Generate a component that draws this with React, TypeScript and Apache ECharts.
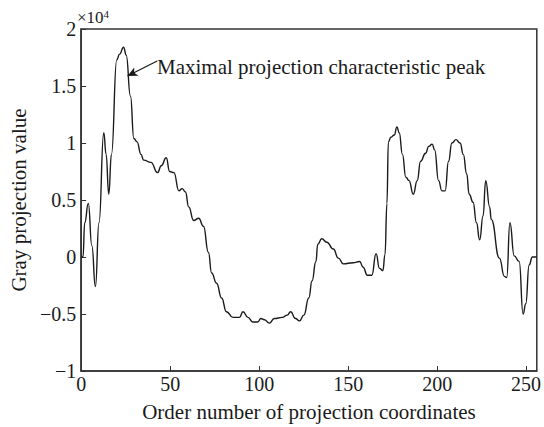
import React, { useEffect, useRef } from "react";
import * as echarts from "echarts";

const xValues = [0, 1, 2, 4, 6, 8, 10, 12.7, 14, 15.5, 17, 20, 21.6, 23.8, 25.3, 27.7, 29.6, 31.4, 33.6, 35.1, 39.2, 42.9, 45, 47.8, 49.7, 52.1, 54.9, 56.7, 58.6, 60.4, 63.2, 66, 68.7, 71.5, 73.3, 76.1, 78.9, 81.6, 85.4, 89, 90.9, 93.7, 96.4, 99.2, 101, 102.9, 105.7, 108.5, 113, 115.8, 117.7, 120.4, 122.7, 125.1, 127.9, 129.7, 131.9, 132.9, 135.2, 138, 141.7, 144.5, 147.3, 152.8, 156.5, 158.4, 160.8, 163.3, 165.7, 167.6, 169.5, 170.7, 171.8, 172.6, 174, 175.9, 177.4, 178.7, 180.5, 182.4, 184.2, 186.6, 188.8, 190.7, 193.5, 195.3, 197.2, 198.6, 200.8, 202.7, 204.5, 206.4, 208.3, 210.6, 212.9, 214.7, 216.6, 218, 220.2, 222.1, 223.9, 225.8, 227.3, 229.5, 230.4, 235, 237.8, 239.1, 240.9, 243.3, 246.1, 248.3, 249.8, 251.7, 253.5, 256];
const grayValues = [0, 0, 3000, 4700, 1000, -2600, 3000, 10900, 9000, 5500, 9000, 17300, 17800, 18400, 17700, 14100, 10400, 10100, 9000, 8500, 8300, 7400, 8000, 8700, 7500, 7400, 5800, 6000, 5700, 4400, 3200, 3400, 2700, 400, -1400, -2300, -3600, -4800, -5300, -5300, -4800, -5300, -5700, -5700, -5400, -5500, -5800, -5400, -5300, -5100, -4800, -5400, -5600, -5100, -3600, -2100, -400, 1100, 1600, 1300, 700, -100, -600, -500, -400, -900, -1600, -1600, 300, -1000, -1200, 200, 4700, 10100, 10500, 10700, 11400, 10900, 9000, 7000, 6700, 5500, 6700, 8400, 9100, 9700, 9900, 9400, 6700, 5800, 5800, 8400, 10000, 10300, 10000, 9000, 7300, 5500, 4800, 3000, 1500, 3600, 6700, 4400, 3300, -100, -1700, -1800, 3000, 100, -400, -5000, -4100, -700, 0, 0];
const xTicks = [0, 50, 100, 150, 200, 250];
const yTicks = [-10000, -5000, 0, 5000, 10000, 15000, 20000];
const annotationText = "Maximal projection characteristic peak";
const arrowFrom = [42.7, 17200];
const arrowTo = [26.0, 15870];

const FONT = "Liberation Serif";

export default function App() {
  const ref = useRef<HTMLDivElement>(null);
  useEffect(() => {
    if (!ref.current) return;
    const chart = echarts.init(ref.current, null, { renderer: "svg" });
    const data = xValues.map((x, i) => [x, grayValues[i]]);
    const fmt = (v: number) => {
      const s = String(Math.round((v / 10000) * 10) / 10);
      return s.replace("-", "\u2212");
    };
    chart.setOption({
      animation: false,
      backgroundColor: "#ffffff",
      grid: { left: 76, top: 29, right: 7, bottom: 45, show: true, borderColor: "#333", borderWidth: 1.5, backgroundColor: "transparent" },
      xAxis: {
        type: "value",
        min: 0,
        max: 256,
        interval: 50,
        name: "Order number of projection coordinates",
        nameLocation: "middle",
        nameGap: 30,
        nameTextStyle: { fontFamily: FONT, fontSize: 21, color: "#1a1a1a" },
        axisLine: { show: true, onZero: false, lineStyle: { color: "#333", width: 1.5 } },
        axisTick: { show: true, inside: true, length: 5, lineStyle: { color: "#333" } },
        axisLabel: {
          fontFamily: FONT, fontSize: 20, color: "#1a1a1a", margin: 3,
          showMaxLabel: false,
          formatter: (v: number) => (xTicks.includes(v) ? String(v) : ""),
        },
        splitLine: { show: false },
      },
      yAxis: {
        type: "value",
        min: -10000,
        max: 20000,
        interval: 5000,
        name: "Gray projection value",
        nameLocation: "middle",
        nameGap: 44,
        nameTextStyle: { fontFamily: FONT, fontSize: 21, color: "#1a1a1a" },
        axisLine: { show: true, onZero: false, lineStyle: { color: "#333", width: 1.5 } },
        axisTick: { show: true, inside: true, length: 5, lineStyle: { color: "#333" } },
        axisLabel: {
          fontFamily: FONT, fontSize: 20, color: "#1a1a1a", margin: 5,
          formatter: (v: number) => (yTicks.includes(v) ? fmt(v) : ""),
        },
        splitLine: { show: false },
      },
      graphic: [
        {
          type: "text",
          left: 77,
          top: 8,
          style: {
            text: "{a|\u00d710}{b|4}",
            rich: {
              a: { fontFamily: FONT, fontSize: 17, fill: "#1a1a1a" },
              b: { fontFamily: FONT, fontSize: 11, fill: "#1a1a1a", verticalAlign: "top", padding: [0, 0, 8, 0] },
            },
          },
        },
        {
          type: "text",
          left: 157,
          top: 56,
          style: { text: annotationText, fontFamily: FONT, fontSize: 21, fill: "#1a1a1a" },
        },
      ],
      series: [
        {
          type: "line",
          data,
          showSymbol: false,
          smooth: 0.5,
          smoothMonotone: "x",
          lineStyle: { color: "#1a1a1a", width: 1.4 },
          markLine: {
            silent: true,
            symbol: ["none", "arrow"],
            symbolSize: [7, 10],
            label: { show: false },
            lineStyle: { color: "#1a1a1a", width: 1.2, type: "solid" },
            data: [[{ coord: arrowFrom }, { coord: arrowTo }]],
          },
        },
      ],
    });
    return () => chart.dispose();
  }, []);
  return <div ref={ref} style={{ width: 544, height: 427, position: "fixed", left: 0, top: 0 }} />;
}
